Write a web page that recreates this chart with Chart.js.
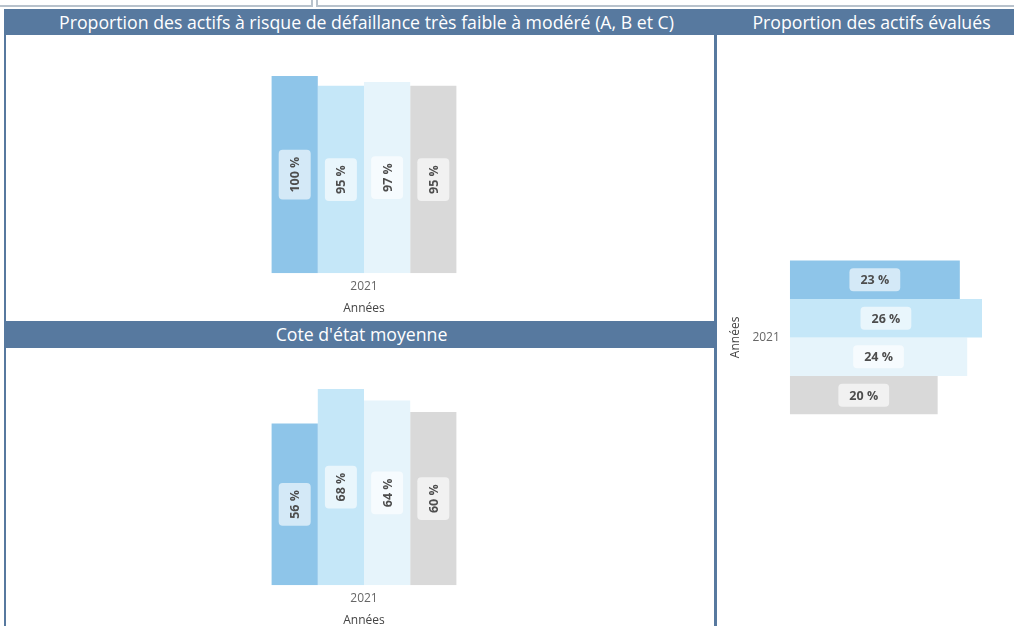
<!DOCTYPE html>
<html lang="fr">
<head>
<meta charset="utf-8">
<script src="https://cdn.jsdelivr.net/npm/chart.js@4"></script>
<style>
  body { margin: 0; width: 1014px; height: 626px; background: #fff; overflow: hidden; font-family: "Open Sans", sans-serif; position: relative; }
  .box { position: absolute; }
  .bandeau { position: absolute; background: #57799f; color: #fff; font-size: 17.7px; line-height: 26px; text-align: center; white-space: nowrap; }
</style>
</head>
<body>
<div class="box" style="left:0;top:0;width:311px;height:5px;border-right:2px solid #b8c2cc;border-bottom:2px solid #b8c2cc;"></div>
<div class="box" style="left:316px;top:0;width:698px;height:5px;border-left:2px solid #b8c2cc;border-bottom:2px solid #b8c2cc;"></div>
<div class="bandeau" style="left:4px;top:9px;width:711px;height:26px;padding-left:14px;box-sizing:border-box;">Proportion des actifs à risque de défaillance très faible à modéré (A, B et C)</div>
<div class="bandeau" style="left:715px;top:9px;width:299px;height:26px;padding-left:14px;box-sizing:border-box;">Proportion des actifs évalués</div>
<div class="bandeau" style="left:4px;top:321px;width:711px;height:27px;padding-left:4px;box-sizing:border-box;">Cote d'état moyenne</div>
<div class="box" style="left:4px;top:35px;width:2px;height:591px;background:#57799f;"></div>
<div class="box" style="left:714px;top:35px;width:3px;height:591px;background:#57799f;"></div>

<div class="box" style="left:14px;top:36px;width:700px;height:284px;"><canvas id="chartDefaillance"></canvas></div>
<div class="box" style="left:14px;top:349px;width:700px;height:279px;"><canvas id="chartCote"></canvas></div>
<div class="box" style="left:718px;top:36px;width:296px;height:590px;"><canvas id="chartEvalues"></canvas></div>

<script>
const categories = ['2021'];
const series = ['Série 1', 'Série 2', 'Série 3', 'Série 4'];
const couleurs = ['#8ec5e9', '#c5e7f8', '#e6f4fb', '#d9d9d9'];
const defaillance = [100, 95, 97, 95];
const coteEtat = [56, 68, 64, 60];
const actifsEvalues = [23, 26, 24, 20];

// étiquettes de valeurs au centre des barres
const etiquettes = {
  id: 'etiquettes',
  afterDatasetsDraw(chart) {
    const ctx = chart.ctx;
    const horizontal = chart.options.indexAxis === 'y';
    chart.data.datasets.forEach((ds, i) => {
      chart.getDatasetMeta(i).data.forEach((bar, j) => {
        const txt = ds.data[j] + ' %';
        const p = bar.getProps(['x', 'y', 'base'], true);
        const cx = horizontal ? (p.x + p.base) / 2 : p.x;
        const cy = horizontal ? p.y : (p.y + p.base) / 2;
        ctx.save();
        ctx.font = 'bold 12.5px "Open Sans"';
        const w = ctx.measureText(txt).width + (horizontal ? 22 : 14);
        const h = horizontal ? 23 : 32;
        ctx.translate(cx, cy);
        if (!horizontal) ctx.rotate(-Math.PI / 2);
        ctx.fillStyle = 'rgba(255,255,255,0.62)';
        ctx.beginPath();
        ctx.roundRect(-w / 2, -h / 2, w, h, 4);
        ctx.fill();
        ctx.fillStyle = '#4d4d4d';
        ctx.textAlign = 'center';
        ctx.textBaseline = 'middle';
        ctx.fillText(txt, 0, 1);
        ctx.restore();
      });
    });
  }
};

function jeux(valeurs, cp) {
  return series.map((nom, i) => ({
    label: nom,
    data: [valeurs[i]],
    backgroundColor: couleurs[i],
    borderWidth: 0,
    categoryPercentage: cp,
    barPercentage: 1
  }));
}

const police = { family: '"Open Sans"', size: 12 };

function colonnes(id, valeurs, max, padBas) {
  return new Chart(document.getElementById(id), {
    type: 'bar',
    data: { labels: categories, datasets: jeux(valeurs, 0.264) },
    options: {
      responsive: true,
      maintainAspectRatio: false,
      animation: false,
      layout: { padding: { top: 40, bottom: padBas } },
      plugins: { legend: { display: false }, tooltip: { enabled: false } },
      scales: {
        x: {
          grid: { display: false, drawTicks: false },
          border: { display: false },
          ticks: { color: '#666', font: police, padding: 6 },
          title: { display: true, text: 'Années', color: '#444', font: police, padding: { top: 2, bottom: 0 } }
        },
        y: { display: false, min: 0, max: max }
      }
    },
    plugins: [etiquettes]
  });
}

colonnes('chartDefaillance', defaillance, 100, 4);
colonnes('chartCote', coteEtat, 68, 0);

new Chart(document.getElementById('chartEvalues'), {
  type: 'bar',
  data: { labels: categories, datasets: jeux(actifsEvalues, 0.2836) },
  options: {
    indexAxis: 'y',
    responsive: true,
    maintainAspectRatio: false,
    animation: false,
    layout: { padding: { top: 30, left: 10, right: 32 } },
    plugins: { legend: { display: false }, tooltip: { enabled: false } },
    scales: {
      y: {
        grid: { display: false, drawTicks: false },
        border: { display: false },
        ticks: { color: '#666', font: police, padding: 10 },
        title: { display: true, text: 'Années', color: '#444', font: police, padding: { top: 0, bottom: 0 } }
      },
      x: { display: false, min: 0, max: 26 }
    }
  },
  plugins: [etiquettes]
});
</script>
</body>
</html>
